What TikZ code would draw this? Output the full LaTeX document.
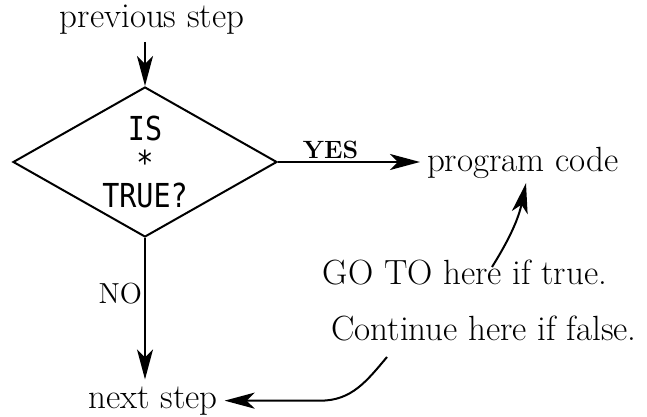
\documentclass[tikz,border=0pt]{standalone}
\usepackage{fontspec}
\usetikzlibrary{shapes.geometric,arrows.meta}
\newfontfamily\boxfont[FakeStretch=0.86]{DejaVu Sans Mono}

\begin{document}
\begin{tikzpicture}[x=0.5pt, y=0.5pt,
decision/.style={diamond, draw=black, line width=1pt, aspect=1.74, minimum width=132pt, minimum height=75pt, inner sep=0pt, align=center, font=\boxfont\fontsize{16.5}{16.8}\selectfont},
words/.style={font=\fontsize{17.5}{21}\selectfont, anchor=base},
answer/.style={font=\fontsize{14.5}{17}\selectfont},
flow/.style={line width=1pt, -{Stealth[length=15pt, width=8pt, inset=4pt]}},
]
\useasboundingbox (0,0) rectangle (647,417);

\node[words] (prev) at (152,389) {previous step};
\node[decision] (test) at (145,255) {IS\\*\\TRUE?};
\node[words, anchor=base west] (code) at (420,245) {program code};
\node[words] (goto) at (465,132) {GO TO here if true.};
\node[words] (cont) at (484,76) {Continue here if false.};
\node[words] (next) at (153,9) {next step};
\coordinate (gotail) at (492,150);
\coordinate (conttail) at (387,60);

\draw[flow] (prev.south -| test.north) -- (test.north);
\draw[flow] (test.east) -- (code.west |- test.east)
    node[pos=0.37, above, inner sep=1pt, font=\bfseries\fontsize{12.5}{15}\selectfont] (yes) {YES};
\draw[flow] (test.south) -- (test.south |- next.north)
    node[pos=0.39, left, inner sep=1pt, answer] (no) {NO};
\draw[flow] (gotail) to[out=58, in=-102] ([xshift=53pt, yshift=1.5pt]code.south west);
\draw[flow] (conttail) to[out=-130, in=0] ([xshift=48pt]next.east) -- (next.east);
\end{tikzpicture}
\end{document}
